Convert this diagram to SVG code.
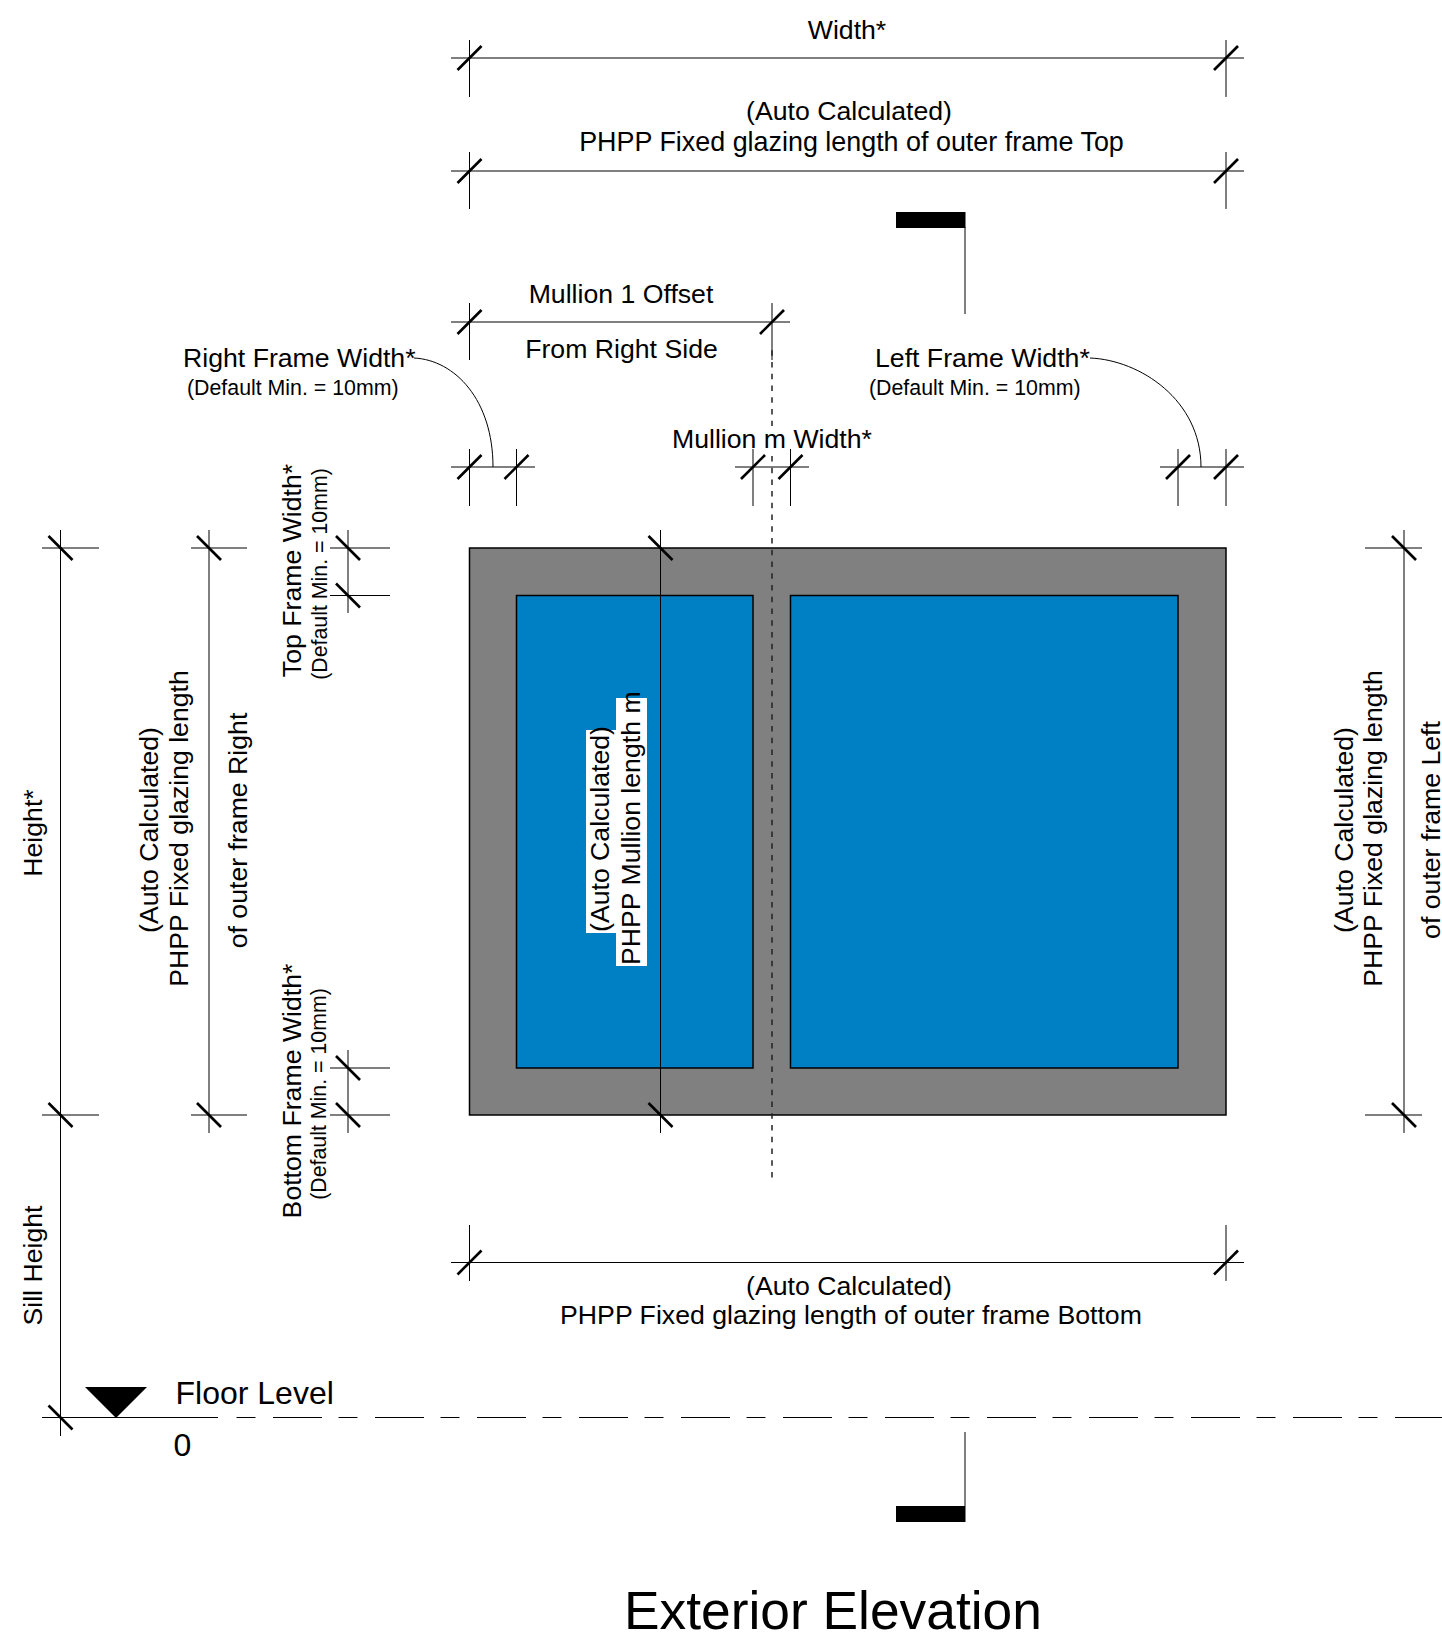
<svg xmlns="http://www.w3.org/2000/svg" xmlns:xlink="http://www.w3.org/1999/xlink" width="1442" height="1637" viewBox="0 0 1442 1637">
<style>
text{font-family:"Liberation Sans",Arial,sans-serif;font-size:26.67px;fill:#000}
.s{font-size:21.33px}
.b{font-size:32px}
.m{text-anchor:middle}
.l{stroke:#000;stroke-width:1;fill:none}
.d{stroke:#222;stroke-width:1.5;fill:none;stroke-dasharray:5.5 6.24}
.t{stroke:#000;stroke-width:2.6;fill:none}
.r{stroke:#000;stroke-width:1.5}
</style>
<defs>
<path id="f" class="t" d="M-12 12L12-12"/>
<path id="b" class="t" d="M-12-12L12 12"/>
</defs>
<rect width="1442" height="1637" fill="#fff"/>
<g id="window">
<rect class="r" x="469.5" y="548" width="756.5" height="567" fill="#808080"/>
<rect class="r" x="516.5" y="595.5" width="236.5" height="472.5" fill="#0080C4"/>
<rect class="r" x="790.5" y="595.5" width="387.5" height="472.5" fill="#0080C4"/>
</g>
<g id="connectors">
<path class="l" d="M451 58H1244M469.5 40V97M1226 40V97"/>
<path class="l" d="M451 171H1244M469.5 152V209M1226 152V209"/>
<path class="l" d="M451 322H790M469.5 303V360M772 303V360"/>
<path class="l" d="M451 467H535M469.5 449V506M516.5 449V506"/>
<path class="l" d="M735 467H809M753 449V506M790.5 449V506"/>
<path class="l" d="M1160 467H1244M1178 449V506M1226 449V506"/>
<path class="l" d="M414 358C455 360 493 400 493 467"/>
<path class="l" d="M1090 358C1140 360 1201 400 1201 467"/>
<path class="l" d="M451 1262.5H1244M469.5 1225V1281M1226 1225V1281"/>
<path class="l" d="M42 548H99M42 1115H99M42 1417.5H218M60.5 530V1436"/>
<path class="l" d="M191 548H247M191 1115H247M209 530V1133"/>
<path class="l" d="M330 548H390M330 595.5H390M348 530V613"/>
<path class="l" d="M330 1068H390M330 1115H390M348 1050V1133"/>
<path class="l" d="M1365 548H1422M1365 1115H1422M1404 530V1133"/>
<path class="l" d="M660.5 530V1133"/>
<path class="d" d="M772 350.2V426"/>
<path class="d" d="M772 455.9V1177.5"/>
<path class="l" stroke-dasharray="19 17.5 49 16.5" d="M236.5 1417.5H1442"/>
<path class="l" d="M965 227V314M965 1432V1506"/>
<g>
<use xlink:href="#f" href="#f" x="469.5" y="58"/><use xlink:href="#f" href="#f" x="1226" y="58"/>
<use xlink:href="#f" href="#f" x="469.5" y="171"/><use xlink:href="#f" href="#f" x="1226" y="171"/>
<use xlink:href="#f" href="#f" x="469.5" y="322"/><use xlink:href="#f" href="#f" x="772" y="322"/>
<use xlink:href="#f" href="#f" x="469.5" y="467"/><use xlink:href="#f" href="#f" x="516.5" y="467"/>
<use xlink:href="#f" href="#f" x="753" y="467"/><use xlink:href="#f" href="#f" x="790.5" y="467"/>
<use xlink:href="#f" href="#f" x="1178" y="467"/><use xlink:href="#f" href="#f" x="1226" y="467"/>
<use xlink:href="#f" href="#f" x="469.5" y="1262.5"/><use xlink:href="#f" href="#f" x="1226" y="1262.5"/>
<use xlink:href="#b" href="#b" x="60.5" y="548"/><use xlink:href="#b" href="#b" x="60.5" y="1115"/><use xlink:href="#b" href="#b" x="60.5" y="1417.5"/>
<use xlink:href="#b" href="#b" x="209" y="548"/><use xlink:href="#b" href="#b" x="209" y="1115"/>
<use xlink:href="#b" href="#b" x="348" y="548"/><use xlink:href="#b" href="#b" x="348" y="595.5"/>
<use xlink:href="#b" href="#b" x="348" y="1068"/><use xlink:href="#b" href="#b" x="348" y="1115"/>
<use xlink:href="#b" href="#b" x="1404" y="548"/><use xlink:href="#b" href="#b" x="1404" y="1115"/>
<use xlink:href="#b" href="#b" x="660.5" y="548"/><use xlink:href="#b" href="#b" x="660.5" y="1115"/>
</g>
</g>
<g id="section-top"><rect x="896" y="212" width="69.5" height="16"/></g>
<g id="section-bottom"><rect x="896" y="1506" width="69.5" height="16"/></g>
<g id="level-marker"><path d="M85 1387H147L116 1418Z"/></g>
<g id="labels">
<text class="m" x="847" y="39">Width*</text>
<text class="m" x="849" y="120">(Auto Calculated)</text>
<text class="m" x="851.5" y="150.5" style="font-size:26.9px">PHPP Fixed glazing length of outer frame Top</text>
<text class="m" x="621" y="303">Mullion 1 Offset</text>
<text class="m" x="621.5" y="358">From Right Side</text>
<text x="183" y="367">Right Frame Width*</text>
<text class="s" x="187" y="395">(Default Min. = 10mm)</text>
<text x="875" y="367">Left Frame Width*</text>
<text class="s" x="869" y="395">(Default Min. = 10mm)</text>
<text x="672" y="448">Mullion m Width*</text>
<text class="m" x="849" y="1295">(Auto Calculated)</text>
<text class="m" x="851" y="1324">PHPP Fixed glazing length of outer frame Bottom</text>
<text class="b" x="175.5" y="1404">Floor Level</text>
<text class="b" x="173.5" y="1456">0</text>
<text x="624" y="1629" style="font-size:53.33px">Exterior Elevation</text>
<text class="m" transform="translate(41.5 833) rotate(-90)">Height*</text>
<text class="m" transform="translate(41.5 1265.5) rotate(-90)">Sill Height</text>
<text class="m" transform="translate(158 830) rotate(-90)">(Auto Calculated)</text>
<text class="m" transform="translate(188 828.5) rotate(-90)">PHPP Fixed glazing length</text>
<text class="m" transform="translate(246.5 830.5) rotate(-90)">of outer frame Right</text>
<text class="m" transform="translate(300.5 570.5) rotate(-90)">Top Frame Width*</text>
<text class="s m" transform="translate(326.5 574) rotate(-90)">(Default Min. = 10mm)</text>
<text class="m" transform="translate(300.5 1091) rotate(-90)">Bottom Frame Width*</text>
<text class="s m" transform="translate(326 1094) rotate(-90)">(Default Min. = 10mm)</text>
<text class="m" transform="translate(1353 830) rotate(-90)">(Auto Calculated)</text>
<text class="m" transform="translate(1381.5 828.5) rotate(-90)">PHPP Fixed glazing length</text>
<text class="m" transform="translate(1440 830) rotate(-90)">of outer frame Left</text>
</g>
<g id="mullion-label">
<rect x="586" y="730" width="30" height="203" fill="#fff"/>
<rect x="616" y="698" width="31" height="268" fill="#fff"/>
<text transform="translate(609 932) rotate(-90)">(Auto Calculated)</text>
<text transform="translate(640 965) rotate(-90)">PHPP Mullion length m</text>
</g>
</svg>
